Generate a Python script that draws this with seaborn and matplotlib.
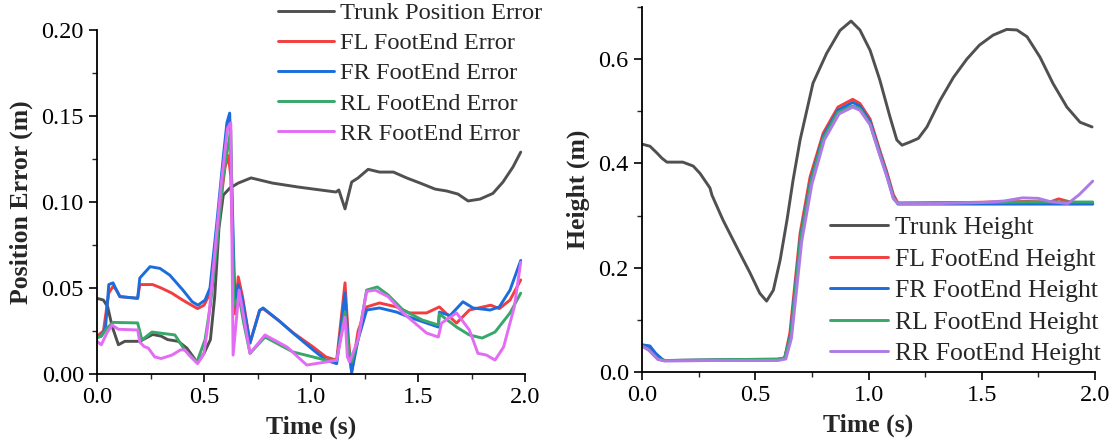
import numpy as np
import pandas as pd
import matplotlib
matplotlib.use("Agg")
import matplotlib.pyplot as plt
import seaborn as sns
from matplotlib.ticker import MultipleLocator

# ---------------- data: left panel (position error) ----------------
t_trunk_err = [0, 0.03, 0.05, 0.07, 0.1, 0.13, 0.2, 0.23, 0.26, 0.3, 0.33, 0.38, 0.42, 0.47, 0.5, 0.53,
               0.55, 0.57, 0.59, 0.62, 0.66, 0.72, 0.82, 0.94, 1.08, 1.117, 1.13, 1.159, 1.19, 1.22, 1.267,
               1.32, 1.385, 1.447, 1.51, 1.58, 1.634, 1.687, 1.734, 1.79, 1.85, 1.897, 1.944, 1.98]
trunk_err = [0.044, 0.043, 0.039, 0.028, 0.017, 0.019, 0.019, 0.021, 0.023, 0.022, 0.020, 0.019, 0.015,
             0.0065, 0.012, 0.02, 0.045, 0.085, 0.104, 0.108, 0.111, 0.114, 0.111, 0.1087, 0.1064, 0.1058,
             0.107, 0.096, 0.1116, 0.114, 0.119, 0.1174, 0.1174, 0.114, 0.111, 0.1075, 0.1064, 0.1046,
             0.1006, 0.1017, 0.105, 0.1116, 0.1204, 0.129]

t_fl_err = [0, 0.03, 0.055, 0.075, 0.09, 0.107, 0.19, 0.2, 0.26, 0.3, 0.35, 0.4, 0.47, 0.5, 0.528, 0.566,
            0.598, 0.614, 0.625, 0.635, 0.645, 0.66, 0.68, 0.715, 0.76, 0.776, 0.85, 0.916, 1.01, 1.07,
            1.12, 1.159, 1.175, 1.19, 1.22, 1.26, 1.32, 1.4, 1.46, 1.54, 1.6, 1.65, 1.68, 1.74, 1.84,
            1.88, 1.93, 1.98]
fl_err = [0.022, 0.025, 0.047, 0.051, 0.049, 0.045, 0.044, 0.052, 0.052, 0.050, 0.047, 0.043, 0.038,
          0.040, 0.047, 0.088, 0.12, 0.127, 0.115, 0.07, 0.035, 0.0565, 0.045, 0.018, 0.037, 0.038, 0.031,
          0.024, 0.0157, 0.0099, 0.008, 0.053, 0.02, 0.001, 0.025, 0.039, 0.0413, 0.039, 0.0355, 0.0355,
          0.039, 0.033, 0.0296, 0.0372, 0.040, 0.038, 0.043, 0.0547]

t_fr_err = [0, 0.02, 0.04, 0.055, 0.075, 0.09, 0.107, 0.19, 0.2, 0.248, 0.294, 0.34, 0.40, 0.445, 0.472,
            0.505, 0.528, 0.56, 0.59, 0.607, 0.62, 0.632, 0.645, 0.66, 0.68, 0.715, 0.76, 0.776, 0.85,
            0.916, 1.01, 1.07, 1.12, 1.159, 1.175, 1.19, 1.22, 1.26, 1.32, 1.4, 1.46, 1.595, 1.6, 1.65,
            1.71, 1.757, 1.837, 1.88, 1.93, 1.98]
fr_err = [0.0215, 0.022, 0.027, 0.052, 0.053, 0.049, 0.045, 0.044, 0.0558, 0.0624, 0.0614, 0.0575, 0.049,
          0.042, 0.040, 0.043, 0.05, 0.088, 0.126, 0.146, 0.1517, 0.1, 0.04, 0.052, 0.043, 0.018, 0.037,
          0.0384, 0.031, 0.0238, 0.014, 0.008, 0.006, 0.047, 0.015, 0.001, 0.02, 0.0372, 0.0384, 0.036,
          0.033, 0.0273, 0.036, 0.034, 0.042, 0.0384, 0.0372, 0.039, 0.0488, 0.066]

t_rl_err = [0, 0.02, 0.047, 0.075, 0.19, 0.21, 0.257, 0.364, 0.41, 0.467, 0.505, 0.53, 0.56, 0.59, 0.625,
            0.64, 0.664, 0.685, 0.715, 0.785, 0.916, 1.01, 1.07, 1.12, 1.159, 1.175, 1.19, 1.22, 1.26,
            1.31, 1.36, 1.43, 1.52, 1.595, 1.6, 1.62, 1.68, 1.74, 1.8, 1.86, 1.93, 1.98]
rl_err = [0.021, 0.022, 0.0267, 0.030, 0.0297, 0.0198, 0.0244, 0.0227, 0.014, 0.007, 0.02, 0.04, 0.075,
          0.115, 0.142, 0.04, 0.0448, 0.03, 0.012, 0.0215, 0.0128, 0.0099, 0.008, 0.008, 0.036, 0.015,
          0.007, 0.02, 0.0488, 0.0506, 0.046, 0.0372, 0.0314, 0.0285, 0.035, 0.033, 0.0273, 0.0227,
          0.0209, 0.0244, 0.0355, 0.047]

t_rr_err = [0, 0.02, 0.047, 0.07, 0.1, 0.19, 0.2, 0.22, 0.24, 0.27, 0.3, 0.35, 0.39, 0.41, 0.43, 0.47,
            0.5, 0.52, 0.55, 0.58, 0.61, 0.625, 0.636, 0.664, 0.69, 0.715, 0.785, 0.888, 0.98, 1.07, 1.12,
            1.159, 1.17, 1.18, 1.22, 1.26, 1.3, 1.36, 1.43, 1.54, 1.595, 1.61, 1.65, 1.68, 1.74, 1.78,
            1.82, 1.86, 1.9, 1.95, 1.98]
rr_err = [0.019, 0.017, 0.024, 0.0285, 0.026, 0.0256, 0.0186, 0.016, 0.015, 0.0099, 0.009, 0.011, 0.014,
          0.014, 0.011, 0.006, 0.012, 0.03, 0.07, 0.11, 0.143, 0.146, 0.011, 0.0488, 0.03, 0.012, 0.0227,
          0.0157, 0.0052, 0.007, 0.008, 0.0331, 0.01, 0.007, 0.02, 0.048, 0.0488, 0.045, 0.0355, 0.0238,
          0.0215, 0.0296, 0.033, 0.0355, 0.0256, 0.012, 0.011, 0.0081, 0.0157, 0.039, 0.065]

# ---------------- data: right panel (height) ----------------
t_trunk_h = [0, 0.035, 0.066, 0.088, 0.11, 0.18, 0.226, 0.256, 0.30, 0.309, 0.358, 0.42, 0.477, 0.52,
             0.55, 0.58, 0.61, 0.64, 0.667, 0.698, 0.755, 0.815, 0.874, 0.923, 0.962, 1.007, 1.05, 1.095,
             1.125, 1.148, 1.183, 1.22, 1.258, 1.316, 1.375, 1.434, 1.49, 1.55, 1.61, 1.655, 1.70, 1.757,
             1.815, 1.876, 1.934, 1.987]
trunk_h = [0.437, 0.433, 0.42, 0.41, 0.4025, 0.4025, 0.395, 0.381, 0.353, 0.339, 0.291, 0.238, 0.19,
           0.151, 0.136, 0.157, 0.215, 0.291, 0.368, 0.445, 0.554, 0.611, 0.655, 0.673, 0.656, 0.617,
           0.56, 0.489, 0.445, 0.435, 0.441, 0.448, 0.47, 0.521, 0.565, 0.60, 0.627, 0.646, 0.657, 0.656,
           0.643, 0.604, 0.553, 0.508, 0.479, 0.47]

t_fl_h = [0, 0.03, 0.06, 0.09, 0.1, 0.3, 0.6, 0.63, 0.653, 0.698, 0.742, 0.8, 0.865, 0.93, 0.962, 1.007,
          1.05, 1.08, 1.11, 1.13, 1.3, 1.55, 1.7, 1.8, 1.84, 1.9, 1.99]
fl_h = [0.052, 0.049, 0.034, 0.024, 0.022, 0.023, 0.024, 0.027, 0.075, 0.266, 0.374, 0.458, 0.508, 0.523,
        0.515, 0.485, 0.425, 0.385, 0.34, 0.324, 0.324, 0.326, 0.327, 0.326, 0.332, 0.325, 0.323]

t_fr_h = [0, 0.035, 0.06, 0.09, 0.1, 0.3, 0.6, 0.63, 0.655, 0.70, 0.745, 0.8, 0.865, 0.93, 0.962, 1.007,
          1.05, 1.08, 1.11, 1.13, 1.3, 1.55, 1.7, 1.8, 1.9, 1.99]
fr_h = [0.052, 0.05, 0.036, 0.024, 0.022, 0.023, 0.024, 0.027, 0.07, 0.26, 0.368, 0.452, 0.502, 0.517,
        0.51, 0.48, 0.42, 0.38, 0.335, 0.322, 0.322, 0.322, 0.322, 0.322, 0.322, 0.322]

t_rl_h = [0, 0.03, 0.07, 0.1, 0.3, 0.6, 0.63, 0.656, 0.70, 0.745, 0.8, 0.865, 0.93, 0.962, 1.007, 1.05,
          1.08, 1.11, 1.13, 1.3, 1.55, 1.7, 1.8, 1.9, 1.99]
rl_h = [0.05, 0.042, 0.025, 0.022, 0.023, 0.025, 0.027, 0.068, 0.256, 0.364, 0.448, 0.498, 0.51, 0.505,
        0.476, 0.418, 0.378, 0.334, 0.324, 0.325, 0.325, 0.326, 0.326, 0.326, 0.326]

t_rr_h = [0, 0.03, 0.07, 0.1, 0.3, 0.6, 0.635, 0.66, 0.705, 0.75, 0.805, 0.87, 0.93, 0.962, 1.007, 1.05,
          1.08, 1.11, 1.13, 1.3, 1.5, 1.6, 1.68, 1.75, 1.8, 1.88, 1.93, 1.99]
rr_h = [0.05, 0.042, 0.024, 0.021, 0.022, 0.022, 0.025, 0.065, 0.25, 0.36, 0.445, 0.495, 0.508, 0.502,
        0.474, 0.415, 0.376, 0.332, 0.323, 0.323, 0.325, 0.328, 0.334, 0.333, 0.327, 0.323, 0.34, 0.366]

labels_err = ["Trunk Position Error", "FL FootEnd Error", "FR FootEnd Error",
              "RL FootEnd Error", "RR FootEnd Error"]
labels_h = ["Trunk Height", "FL FootEnd Height", "FR FootEnd Height",
            "RL FootEnd Height", "RR FootEnd Height"]
x_ticks = [0.0, 0.5, 1.0, 1.5, 2.0]
y_ticks_err = [0.00, 0.05, 0.10, 0.15, 0.20]
y_ticks_h = [0.0, 0.2, 0.4, 0.6]

# ---------------- styling ----------------
sns.set_style("ticks")
plt.rcParams["font.family"] = ["Liberation Serif", "DejaVu Serif"]

c_gray = "#505050"
c_red = "#F23E3E"
c_blue = "#1B6DDD"
c_green = "#38A86A"
c_mag = "#E36CF5"
c_pur = "#AE7BE6"

fig = plt.figure(figsize=(11.18, 4.44), dpi=100)
axL = fig.add_axes([97 / 1118, 1 - 374 / 444, (525 - 97) / 1118, (374 - 30) / 444])
axR = fig.add_axes([642 / 1118, 1 - 372 / 444, (1095 - 642) / 1118, (372 - 7) / 444])

lw = 2.1
err_series = [(t_trunk_err, trunk_err, c_gray), (t_fl_err, fl_err, c_red), (t_fr_err, fr_err, c_blue),
              (t_rl_err, rl_err, c_green), (t_rr_err, rr_err, c_mag)]
for (tt, vv, col), lab in zip(err_series, labels_err):
    sns.lineplot(x=tt, y=vv, ax=axL, color=col, linewidth=lw, label=lab, estimator=None, sort=False)

h_series = [(t_trunk_h, trunk_h, c_gray), (t_fl_h, fl_h, c_red), (t_fr_h, fr_h, c_blue),
            (t_rl_h, rl_h, c_green), (t_rr_h, rr_h, c_pur)]
for (tt, vv, col), lab in zip(h_series, labels_h):
    sns.lineplot(x=tt, y=vv, ax=axR, color=col, linewidth=lw, label=lab, estimator=None, sort=False)

tick_fs = 17.5
label_fs = 18.5

for ax in (axL, axR):
    sns.despine(ax=ax)
    ax.set_xlim(0, 2.0)
    ax.set_xticks(x_ticks)
    ax.set_xticklabels([f"{v:.1f}" for v in x_ticks])
    ax.xaxis.set_minor_locator(MultipleLocator(0.25))
    ax.tick_params(which="major", direction="out", length=6, width=1.2, labelsize=tick_fs, colors="black")
    ax.tick_params(which="minor", direction="out", length=3.5, width=1.0)
    for s in ("left", "bottom"):
        ax.spines[s].set_linewidth(1.3)
        ax.spines[s].set_color("black")
    ax.set_xlabel("Time (s)", fontsize=label_fs, fontweight="bold", labelpad=5)

axL.set_ylim(0, 0.20)
axL.set_yticks(y_ticks_err)
axL.set_yticklabels([f"{v:.2f}" for v in y_ticks_err])
axL.yaxis.set_minor_locator(MultipleLocator(0.025))
axL.set_ylabel("Position Error (m)", fontsize=label_fs, fontweight="bold", labelpad=6)

axR.set_ylim(0, 0.70)
axR.set_yticks(y_ticks_h)
axR.set_yticklabels([f"{v:.1f}" for v in y_ticks_h])
axR.yaxis.set_minor_locator(MultipleLocator(0.1))
axR.set_ylabel("Height (m)", fontsize=label_fs, fontweight="bold", labelpad=6)

axL.legend(loc="upper left", bbox_to_anchor=(278 / 1118, 1 - 2 / 444), bbox_transform=fig.transFigure,
           frameon=False, fontsize=17.6, handlelength=2.3, handletextpad=0.25, labelspacing=0.33,
           borderpad=0, borderaxespad=0)
axR.legend(loc="upper left", bbox_to_anchor=(830 / 1118, 1 - 216 / 444), bbox_transform=fig.transFigure,
           frameon=False, fontsize=18.5, handlelength=2.25, handletextpad=0.27, labelspacing=0.335,
           borderpad=0, borderaxespad=0)

fig.savefig("out.png", dpi=100)
